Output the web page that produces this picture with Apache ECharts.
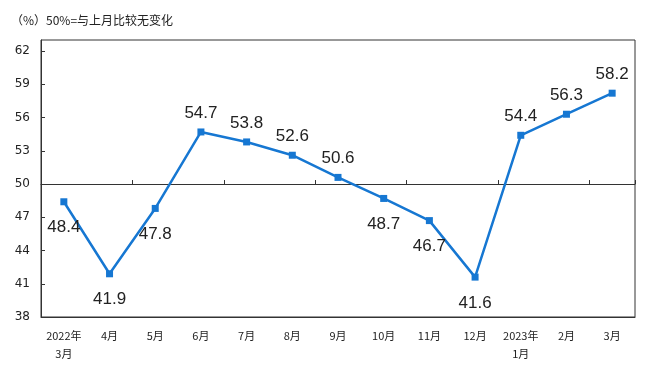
<!DOCTYPE html>
<html><head><meta charset="utf-8">
<script src="https://cdn.jsdelivr.net/npm/echarts@6/dist/echarts.min.js"></script>
<style>html,body{margin:0;padding:0;background:#fff}#c{width:650px;height:370px}</style>
</head><body><div id="c"></div>
<script>
var categories = ['2022年\n3月','4月','5月','6月','7月','8月','9月','10月','11月','12月','2023年\n1月','2月','3月'];
var values = [48.4, 41.9, 47.8, 54.7, 53.8, 52.6, 50.6, 48.7, 46.7, 41.6, 54.4, 56.3, 58.2];
var titleText = '（%）50%=与上月比较无变化';
var yMin = 38, yMax = 63, yStep = 3, baseLine = 50;

var chart = echarts.init(document.getElementById('c'), null, {renderer: 'canvas'});
var gTop = 40, gBottom = 53, gH = 370 - gTop - gBottom;
var seriesData = values.map(function (v) {
  return {
    value: v,
    label: v < baseLine ? {position: 'bottom', distance: 14} : {position: 'top', distance: 7}
  };
});
chart.setOption({
  animation: false,
  title: {
    text: titleText, left: 6, top: 9,
    textStyle: {fontSize: 12, fontWeight: 'normal', color: '#222', fontFamily: 'Noto Sans CJK SC'}
  },
  grid: [
    {left: 41, right: 15, top: gTop, bottom: gBottom, show: true, borderColor: '#333', borderWidth: 1, backgroundColor: 'transparent'},
    {left: 41, right: 15, top: gTop, height: gH * (yMax - baseLine) / (yMax - yMin)}
  ],
  xAxis: [
    {
      type: 'category', data: categories, gridIndex: 0, boundaryGap: true,
      axisLine: {lineStyle: {color: '#333', width: 1}},
      axisTick: {show: false},
      axisLabel: {color: '#222', fontSize: 11, margin: 10, lineHeight: 18, interval: 0, fontFamily: 'Noto Sans CJK SC'}
    },
    {
      type: 'category', data: categories, gridIndex: 1, boundaryGap: true,
      axisLine: {lineStyle: {color: '#333', width: 1}},
      axisTick: {show: true, inside: true, length: 4, lineStyle: {color: '#333'}},
      axisLabel: {show: false}
    }
  ],
  yAxis: [
    {
      type: 'value', gridIndex: 0, min: yMin, max: yMax, interval: yStep,
      axisLine: {show: true, lineStyle: {color: '#333', width: 1}},
      axisTick: {show: true, inside: true, length: 4, lineStyle: {color: '#333'}},
      splitLine: {show: false},
      axisLabel: {color: '#222', fontSize: 12, margin: 11, showMaxLabel: false, fontFamily: 'DejaVu Sans'}
    },
    {type: 'value', gridIndex: 1, show: false, min: 0, max: 1}
  ],
  series: [{
    type: 'line', xAxisIndex: 0, yAxisIndex: 0, data: seriesData,
    symbol: 'rect', symbolSize: 7,
    lineStyle: {color: '#1677d2', width: 2.5},
    itemStyle: {color: '#1677d2'},
    label: {show: true, color: '#222', fontSize: 17, fontFamily: 'Liberation Sans'}
  }]
});
</script></body></html>
